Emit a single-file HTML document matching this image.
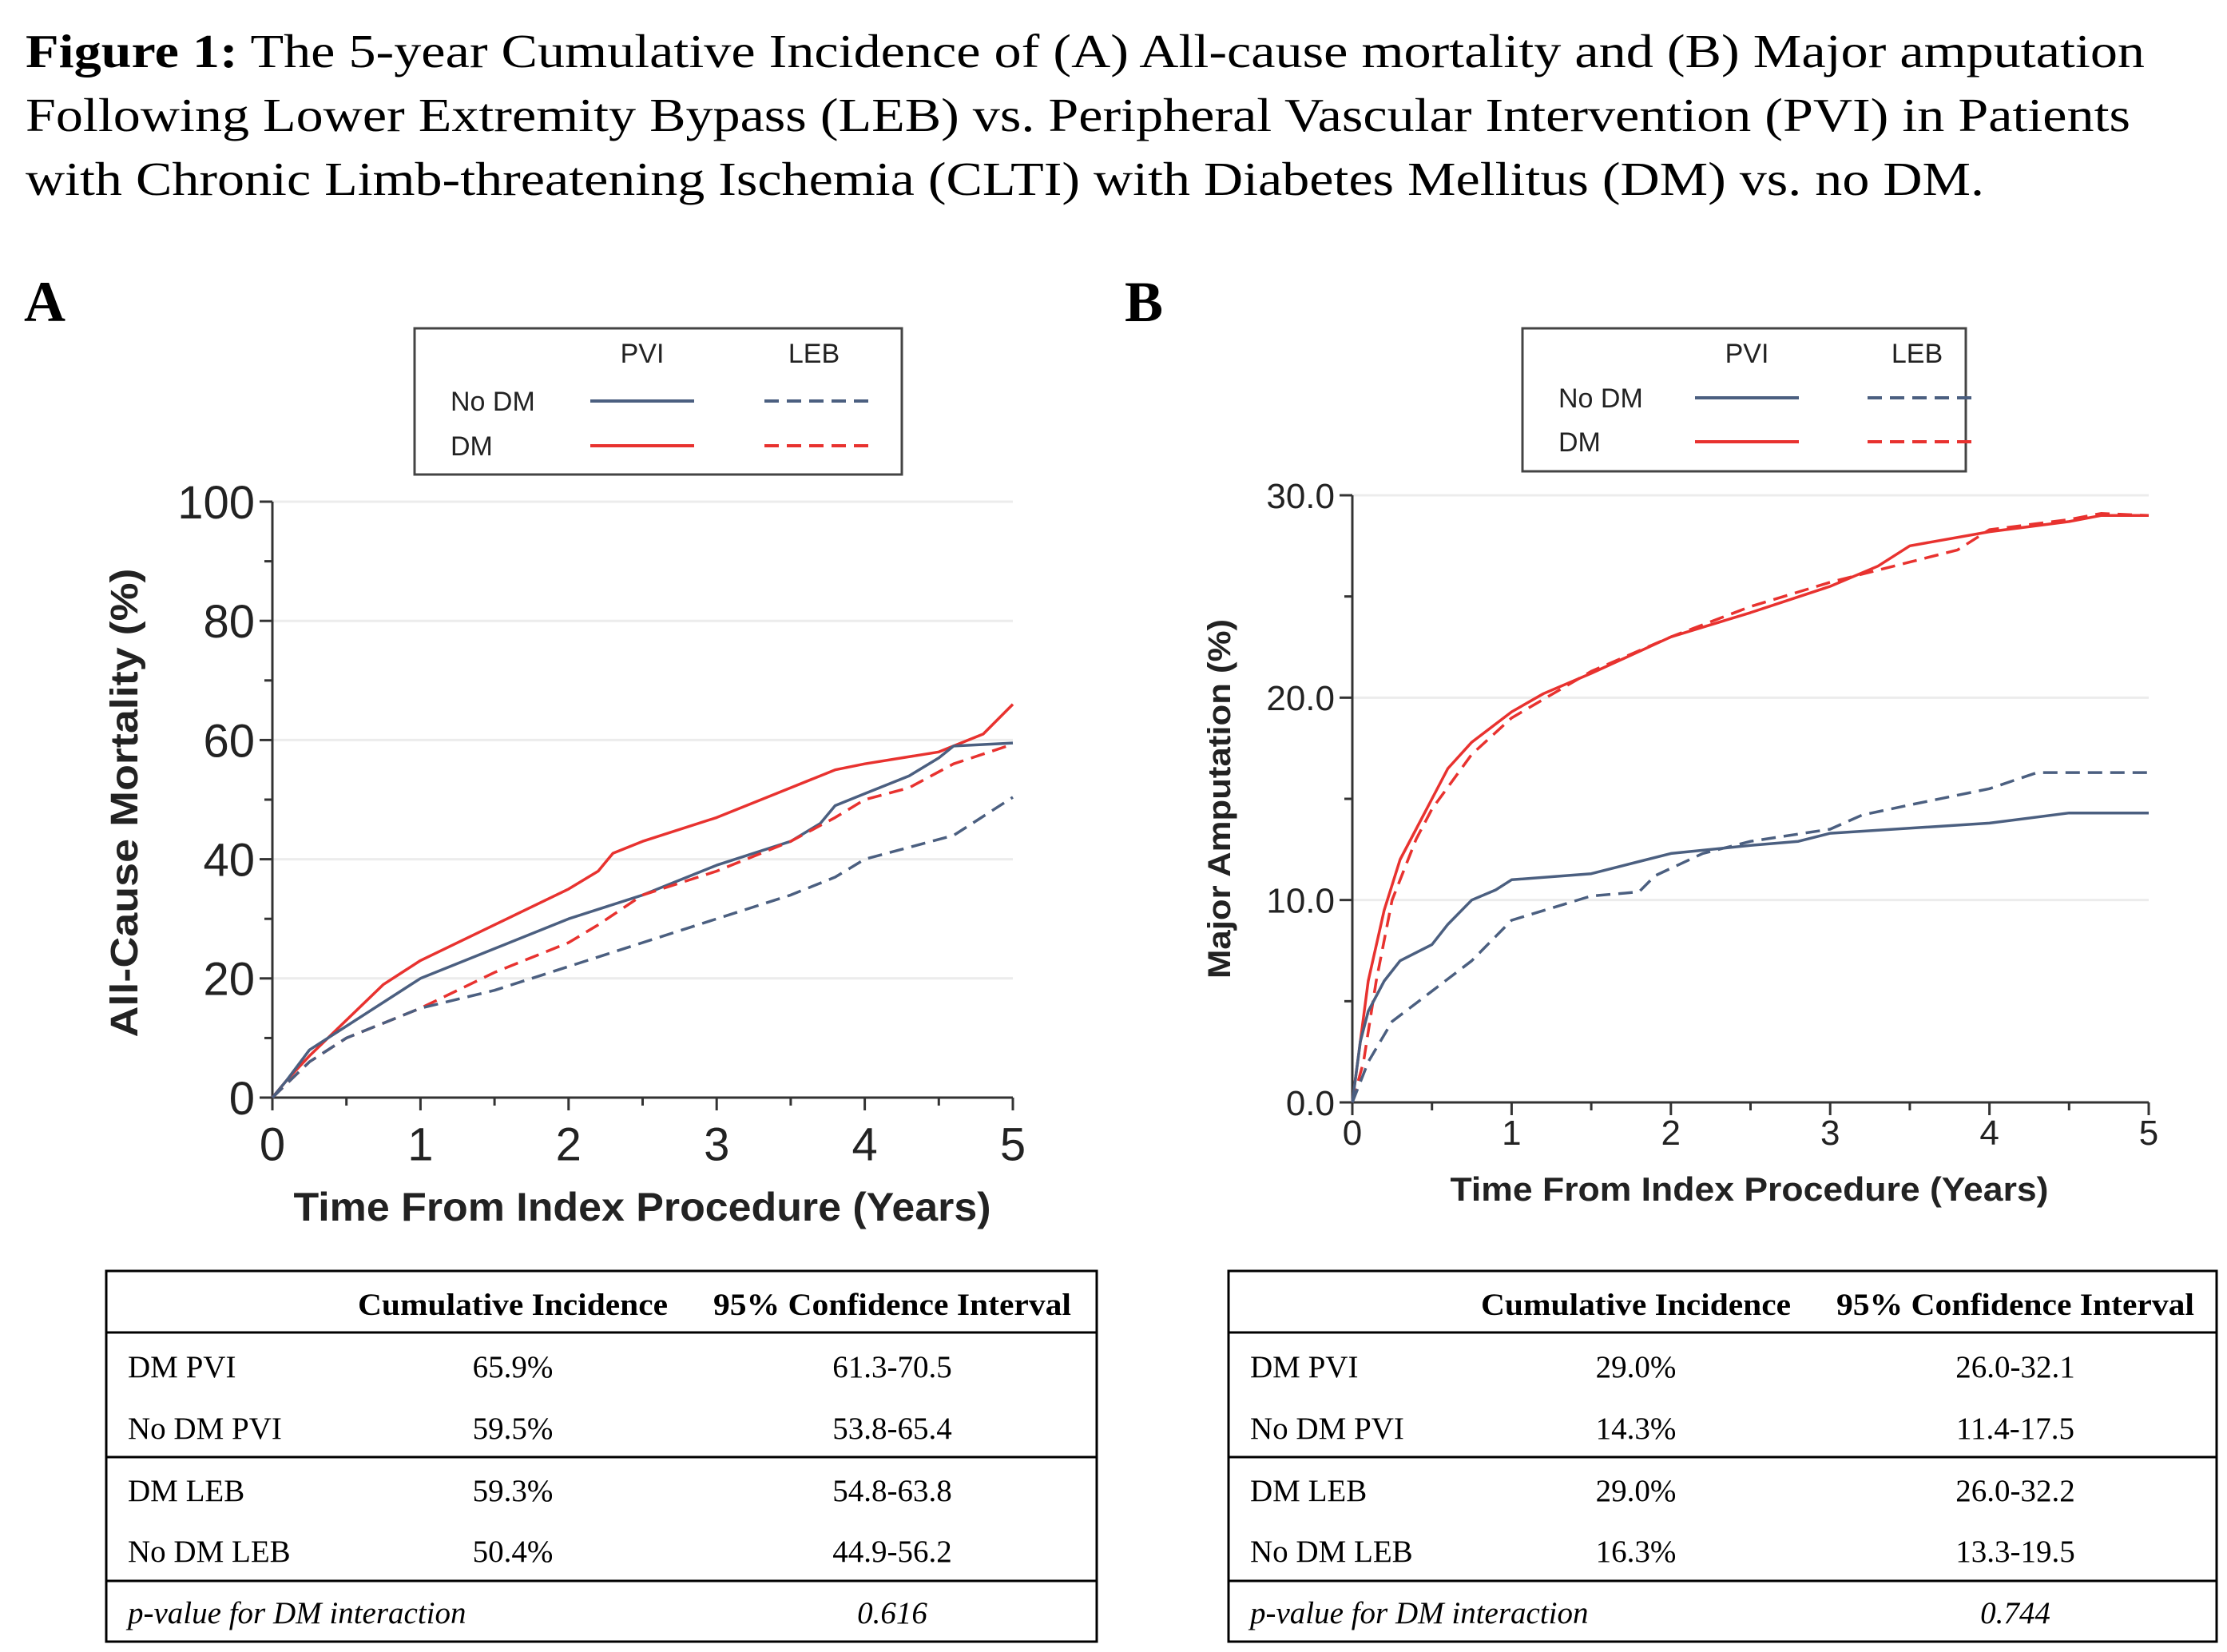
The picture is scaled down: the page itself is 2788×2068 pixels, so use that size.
<!DOCTYPE html>
<html><head><meta charset="utf-8"><style>html,body{margin:0;padding:0;background:#fff}svg{display:block}</style></head>
<body>
<svg id="s" xmlns="http://www.w3.org/2000/svg" width="2788" height="2068" viewBox="0 0 2788 2068">
<rect width="2788" height="2068" fill="#fff"/>
<g font-family="Liberation Serif, serif" font-size="59" fill="#000">
<text x="32" y="84" textLength="2653" lengthAdjust="spacingAndGlyphs"><tspan font-weight="bold">Figure 1:</tspan> The 5-year Cumulative Incidence of (A) All-cause mortality and (B) Major amputation</text>
<text x="32" y="164" textLength="2635" lengthAdjust="spacingAndGlyphs">Following Lower Extremity Bypass (LEB) vs. Peripheral Vascular Intervention (PVI) in Patients</text>
<text x="32" y="244" textLength="2452" lengthAdjust="spacingAndGlyphs">with Chronic Limb-threatening Ischemia (CLTI) with Diabetes Mellitus (DM) vs. no DM.</text>
<text x="30" y="402" font-weight="bold" font-size="72">A</text>
<text x="1408" y="402" font-weight="bold" font-size="72">B</text>
</g>
<g id="plots"></g>
<g id="tables" font-family="Liberation Serif, serif" font-size="39" fill="#000"></g>
</svg>
<script>
const S=document.getElementById('plots');const T=document.getElementById('tables');
function el(p,tag,a,txt){const e=document.createElementNS('http://www.w3.org/2000/svg',tag);for(const k in a)e.setAttribute(k,a[k]);if(txt!==undefined)e.textContent=txt;p.appendChild(e);return e;}
const RED='#e8322f',BLUE='#4b5f80';
function panel(o){
 const X=v=>o.x0+(o.x1-o.x0)*v/5, Y=v=>o.y0+(o.y1-o.y0)*v/o.ymax;
 o.grid.forEach(v=>el(S,'line',{x1:o.x0,x2:o.x1,y1:Y(v),y2:Y(v),stroke:'#ececec','stroke-width':3}));
 el(S,'line',{x1:o.x0,x2:o.x0,y1:o.y0,y2:o.y1,stroke:'#333','stroke-width':3});
 el(S,'line',{x1:o.x0,x2:o.x1,y1:o.y0,y2:o.y0,stroke:'#333','stroke-width':3});
 for(let i=0;i<=10;i++){const x=X(i/2);el(S,'line',{x1:x,x2:x,y1:o.y0,y2:o.y0+(i%2?10:16),stroke:'#333','stroke-width':3});}
 o.yt.forEach((v,i)=>{const y=Y(v);el(S,'line',{x1:o.x0,x2:o.x0-(i%2?10:16),y1:y,y2:y,stroke:'#333','stroke-width':3});});
 o.ylab.forEach(([v,t])=>el(S,'text',{x:o.x0-22,y:Y(v)+o.tf*0.36,'text-anchor':'end','font-family':'Liberation Sans Narrow, Liberation Sans, sans-serif','font-size':o.tf,fill:'#222'},t));
 for(let i=0;i<=5;i++)el(S,'text',{x:X(i),y:o.y0+o.tf*o.xo,'text-anchor':'middle','font-family':'Liberation Sans Narrow, Liberation Sans, sans-serif','font-size':o.tf,fill:'#222'},i);
 el(S,'text',{x:o.xlx,y:o.xly,'text-anchor':'middle','font-family':'Liberation Sans, sans-serif','font-weight':'bold','font-size':o.xf,textLength:o.xlen,lengthAdjust:'spacingAndGlyphs',fill:'#222'},'Time From Index Procedure (Years)');
 el(S,'text',{x:0,y:0,transform:`translate(${o.ylx},${o.yly}) rotate(-90)`,'text-anchor':'middle','font-family':'Liberation Sans, sans-serif','font-weight':'bold','font-size':o.yf,textLength:o.ylen,lengthAdjust:'spacingAndGlyphs',fill:'#222'},o.ytitle);
 o.series.forEach(s=>{el(S,'polyline',{points:s.d.map(p=>X(p[0]).toFixed(1)+','+Y(p[1]).toFixed(1)).join(' '),fill:'none',stroke:s.c,'stroke-width':3.5,'stroke-dasharray':s.dash?'18 10':'none','stroke-linejoin':'round'});});
 const L=o.leg;
 el(S,'rect',{x:L.x,y:L.y,width:L.w,height:L.h,fill:'#fff',stroke:'#444','stroke-width':3});
 const lf={'font-family':'Liberation Sans, sans-serif','font-size':34,fill:'#222'};
 el(S,'text',Object.assign({x:L.pvi,y:L.y+43,'text-anchor':'middle'},lf),'PVI');
 el(S,'text',Object.assign({x:L.leb,y:L.y+43,'text-anchor':'middle'},lf),'LEB');
 el(S,'text',Object.assign({x:L.x+45,y:L.r1+12},lf),'No DM');
 el(S,'text',Object.assign({x:L.x+45,y:L.r2+12},lf),'DM');
 [[L.r1,BLUE],[L.r2,RED]].forEach(([y,c])=>{
  el(S,'line',{x1:L.pvi-65,x2:L.pvi+65,y1:y,y2:y,stroke:c,'stroke-width':4});
  el(S,'line',{x1:L.leb-62,x2:L.leb+68,y1:y,y2:y,stroke:c,'stroke-width':4,'stroke-dasharray':'18 10'});
 });
}
panel({x0:341,x1:1268,y0:1374,y1:628,ymax:100,grid:[20,40,60,80,100],yt:[0,10,20,30,40,50,60,70,80,90,100],
 ylab:[[0,'0'],[20,'20'],[40,'40'],[60,'60'],[80,'80'],[100,'100']],tf:58,xo:1.35,
 xlx:804,xly:1528,xf:50,xlen:873,ylx:172,yly:1005,yf:48,ylen:587,ytitle:'All-Cause Mortality (%)',
 leg:{x:519,y:411,w:610,h:183,pvi:804,leb:1019,r1:502,r2:558},
 series:[
 {c:RED,d:[[0,0],[0.1,3],[0.25,7],[0.5,13],[0.75,19],[1,23],[1.5,29],[2,35],[2.2,38],[2.3,41],[2.5,43],[3,47],[3.5,52],[3.8,55],[4,56],[4.5,58],[4.8,61],[5,66]]},
 {c:BLUE,d:[[0,0],[0.1,3],[0.25,8],[0.5,12],[0.75,16],[1,20],[1.5,25],[2,30],[2.5,34],[3,39],[3.5,43],[3.7,46],[3.8,49],[4,51],[4.3,54],[4.5,57],[4.6,59],[5,59.5]]},
 {c:RED,dash:1,d:[[0,0],[0.25,6],[0.5,10],[1,15],[1.5,21],[2,26],[2.2,29],[2.5,34],[3,38],[3.5,43],[3.8,47],[4,50],[4.3,52],[4.6,56],[5,59.3]]},
 {c:BLUE,dash:1,d:[[0,0],[0.25,6],[0.5,10],[1,15],[1.5,18],[2,22],[2.5,26],[3,30],[3.5,34],[3.8,37],[4,40],[4.3,42],[4.6,44],[5,50.4]]}
 ]});
panel({x0:1693,x1:2690,y0:1380,y1:620,ymax:30,grid:[10,20,30],yt:[0,5,10,15,20,25,30],
 ylab:[[0,'0.0'],[10,'10.0'],[20,'20.0'],[30,'30.0']],tf:44,xo:1.2,
 xlx:2190,xly:1503,xf:42,xlen:749,ylx:1540,yly:1000,yf:40,ylen:450,ytitle:'Major Amputation (%)',
 leg:{x:1906,y:411,w:555,h:179,pvi:2187,leb:2400,r1:498,r2:553},
 series:[
 {c:RED,d:[[0,0],[0.05,3],[0.1,6],[0.2,9.5],[0.3,12],[0.4,13.5],[0.5,15],[0.6,16.5],[0.75,17.8],[1,19.3],[1.2,20.2],[1.5,21.2],[2,23],[2.5,24.2],[3,25.5],[3.3,26.5],[3.5,27.5],[4,28.2],[4.5,28.7],[4.7,29],[5,29]]},
 {c:RED,dash:1,d:[[0,0],[0.07,2],[0.15,6],[0.25,10],[0.4,13],[0.5,14.5],[0.75,17.2],[1,19],[1.5,21.3],[2,23],[2.5,24.5],[3,25.7],[3.5,26.7],[3.8,27.3],[4,28.3],[4.5,28.8],[4.7,29.1],[5,29]]},
 {c:BLUE,d:[[0,0],[0.05,3],[0.1,4.5],[0.2,6],[0.3,7],[0.5,7.8],[0.6,8.8],[0.75,10],[0.9,10.5],[1,11],[1.5,11.3],[1.8,11.9],[2,12.3],[2.5,12.7],[2.8,12.9],[3,13.3],[4,13.8],[4.5,14.3],[5,14.3]]},
 {c:BLUE,dash:1,d:[[0,0],[0.1,2],[0.25,4],[0.5,5.5],[0.75,7],[1,9],[1.5,10.2],[1.8,10.4],[1.9,11.2],[2.2,12.3],[2.5,12.9],[3,13.5],[3.2,14.2],[3.5,14.7],[4,15.5],[4.3,16.3],[5,16.3]]}
 ]});
function table(x0,x1,c1,c2,rows,p){
 const y0=1591,y1=2055;
 el(T,'rect',{x:x0,y:y0,width:x1-x0,height:y1-y0,fill:'none',stroke:'#000','stroke-width':3});
 [1668,1824,1979].forEach(y=>el(T,'line',{x1:x0,x2:x1,y1:y,y2:y,stroke:'#000','stroke-width':3}));
 el(T,'text',{x:c1,y:1646,'text-anchor':'middle','font-weight':'bold',textLength:388,lengthAdjust:'spacingAndGlyphs'},'Cumulative Incidence');
 el(T,'text',{x:c2,y:1646,'text-anchor':'middle','font-weight':'bold',textLength:448,lengthAdjust:'spacingAndGlyphs'},'95% Confidence Interval');
 [1724,1801,1879,1955].forEach((y,i)=>{const r=rows[i];
  el(T,'text',{x:x0+27,y:y},r[0]);el(T,'text',{x:c1,y:y,'text-anchor':'middle'},r[1]);el(T,'text',{x:c2,y:y,'text-anchor':'middle'},r[2]);});
 el(T,'text',{x:x0+27,y:2032,'font-style':'italic'},'p-value for DM interaction');
 el(T,'text',{x:c2,y:2032,'text-anchor':'middle','font-style':'italic'},p);
}
table(133,1373,642,1117,[['DM PVI','65.9%','61.3-70.5'],['No DM PVI','59.5%','53.8-65.4'],['DM LEB','59.3%','54.8-63.8'],['No DM LEB','50.4%','44.9-56.2']],'0.616');
table(1538,2775,2048,2523,[['DM PVI','29.0%','26.0-32.1'],['No DM PVI','14.3%','11.4-17.5'],['DM LEB','29.0%','26.0-32.2'],['No DM LEB','16.3%','13.3-19.5']],'0.744');
</script>
</body></html>
